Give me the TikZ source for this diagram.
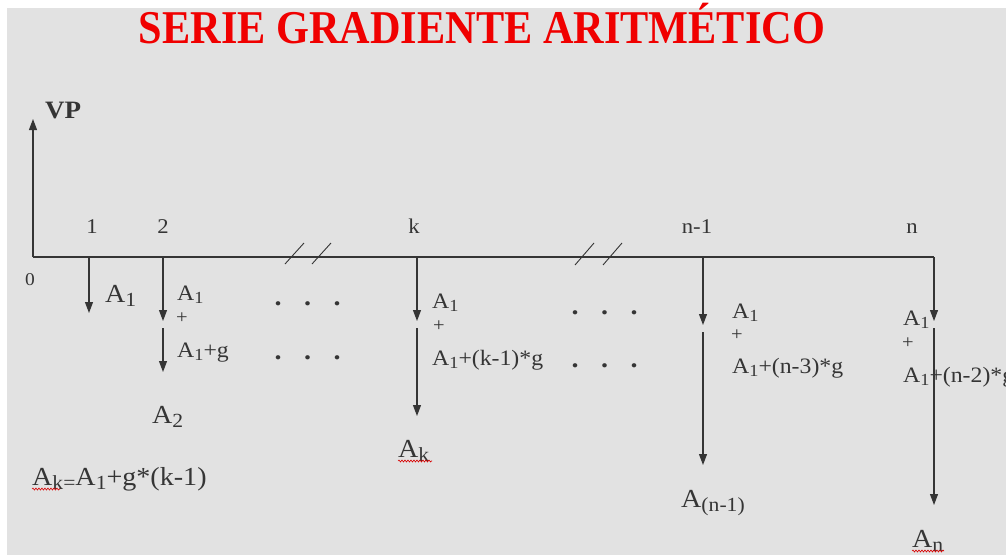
\documentclass[tikz,border=0pt]{standalone}
\usepackage{fontspec}
\setmainfont[FakeStretch=1.08]{Liberation Serif}
\newfontfamily\titlefont[FakeStretch=0.9]{Liberation Serif}
\usetikzlibrary{arrows.meta,decorations.pathmorphing}
\definecolor{bgc}{HTML}{E2E2E2}
\definecolor{ink}{HTML}{353535}
\definecolor{titlered}{HTML}{F00000}
\newcommand{\sbs}[1]{\raisebox{-0.18em}{\scalebox{0.77}{#1}}}
\tikzset{
  flow/.style={draw=ink, line width=1.1pt, -{Triangle[width=8pt,length=11pt]}},
  axisline/.style={draw=ink, line width=1.1pt},
  lbl/.style={inner sep=0pt, anchor=base west, text=ink, font=\fontsize{22}{26}\selectfont},
  big/.style={inner sep=0pt, anchor=base west, text=ink, font=\fontsize{26}{30}\selectfont},
  tick/.style={inner sep=0pt, anchor=base, text=ink, font=\fontsize{21}{24}\selectfont},
  plus/.style={inner sep=0pt, text=ink, font=\fontsize{19}{21}\selectfont},
  dotrow/.style={inner sep=0pt, anchor=base west, text=ink, font=\fontsize{26}{28}\selectfont\bfseries},
  brk/.style={draw=ink, line width=0.9pt},
  squig/.style={draw=red!85!black, line width=0.6pt, decorate, decoration={snake, amplitude=1pt, segment length=3pt}},
}
\newcommand{\dotsrow}{.\hspace{22.5pt}.\hspace{22.5pt}.}
\begin{document}
\begin{tikzpicture}[x=1pt,y=-1pt]
\useasboundingbox (0,0) rectangle (1006,557);
\fill[white] (0,0) rectangle (1006,557);
\fill[bgc] (7,8) rectangle (1006,555);

% title
\node[inner sep=0pt, anchor=base, text=titlered, font=\titlefont\fontsize{47}{50}\selectfont\bfseries] (title) at (482,43) {SERIE GRADIENTE ARITMÉTICO};

% axes
\coordinate (O) at (33,257);
\coordinate (VPtop) at (33,119);
\coordinate (E) at (934,257);
\draw[flow] (O) -- (VPtop);
\draw[axisline] (O) -- (E);
\node[inner sep=0pt, anchor=base west, text=ink, font=\fontsize{25}{30}\selectfont\bfseries] (VP) at (45,118) {VP};
\node[inner sep=0pt, anchor=base, text=ink, font=\fontsize{18}{20}\selectfont] (zero) at (30,285) {0};

% tick labels
\node[tick] (l1) at (92,233) {1};
\node[tick] (l2) at (163,233) {2};
\node[tick] (lk) at (414,233) {k};
\node[tick] (ln1) at (697,233) {n-1};
\node[tick] (ln) at (912,233) {n};

% break marks
\coordinate (b1a) at (285,264); \coordinate (b1b) at (304,243);
\coordinate (b2a) at (312,264); \coordinate (b2b) at (331,243);
\coordinate (b3a) at (575,265); \coordinate (b3b) at (594,243);
\coordinate (b4a) at (603,265); \coordinate (b4b) at (622,243);
\draw[brk] (b1a) -- (b1b);
\draw[brk] (b2a) -- (b2b);
\draw[brk] (b3a) -- (b3b);
\draw[brk] (b4a) -- (b4b);

% period 1
\coordinate (t1) at (89,257);
\coordinate (t1e) at (89,313);
\draw[flow] (t1) -- (t1e);
\node[big] (A1a) at (105,302) {A\sbs{1}};

% period 2
\coordinate (t2) at (163,257);
\coordinate (t2m) at (163,321);
\coordinate (t2s) at (163,328);
\coordinate (t2e) at (163,372);
\draw[flow] (t2) -- (t2m);
\draw[flow] (t2s) -- (t2e);
\node[lbl] (A1b) at (177,300) {A\sbs{1}};
\node[plus] (p2) at (182,318) {+};
\node[lbl] (A1g) at (177,357) {A\sbs{1}+g};
\node[big] (A2) at (152,423) {A\sbs{2}};

% dots
\node[dotrow] (d1) at (274.5,305) {\dotsrow};
\node[dotrow] (d2) at (274.5,359) {\dotsrow};
\node[dotrow] (d3) at (571.5,314) {\dotsrow};
\node[dotrow] (d4) at (571.5,367) {\dotsrow};

% period k
\coordinate (tk) at (417,257);
\coordinate (tkm) at (417,321);
\coordinate (tks) at (417,328);
\coordinate (tke) at (417,416);
\draw[flow] (tk) -- (tkm);
\draw[flow] (tks) -- (tke);
\node[lbl] (A1k) at (432,308) {A\sbs{1}};
\node[plus] (pk) at (439,326) {+};
\node[lbl] (A1kg) at (432,365) {A\sbs{1}+(k-1)*g};
\node[big] (Ak) at (398,457) {A\sbs{k}};
\draw[squig] (398,461) -- (432,461);

% period n-1
\coordinate (tn1) at (703,257);
\coordinate (tn1m) at (703,325);
\coordinate (tn1s) at (703,332);
\coordinate (tn1e) at (703,465);
\draw[flow] (tn1) -- (tn1m);
\draw[flow] (tn1s) -- (tn1e);
\node[lbl] (A1n1) at (732,318) {A\sbs{1}};
\node[plus] (pn1) at (737,335) {+};
\node[lbl] (A1n1g) at (732,373) {A\sbs{1}+(n-3)*g};
\node[big] (An1) at (681,507) {A\sbs{(n-1)}};

% period n
\coordinate (tnm) at (934,321);
\coordinate (tns) at (934,328);
\coordinate (tne) at (934,505);
\draw[flow] (E) -- (tnm);
\node[lbl] (A1n) at (903,325) {A\sbs{1}};
\node[plus] (pn) at (908,343) {+};
\node[lbl] (A1ng) at (903,382) {A\sbs{1}+(n-2)*g};
\draw[flow] (tns) -- (tne);
\node[big] (An) at (912,547) {A\sbs{n}};
\draw[squig] (912,551) -- (944,551);

% formula
\node[big] (form) at (32,485) {A\sbs{k=}A\sbs{1}+g*(k-1)};
\draw[squig] (32,489) -- (60,489);
\end{tikzpicture}
\end{document}
